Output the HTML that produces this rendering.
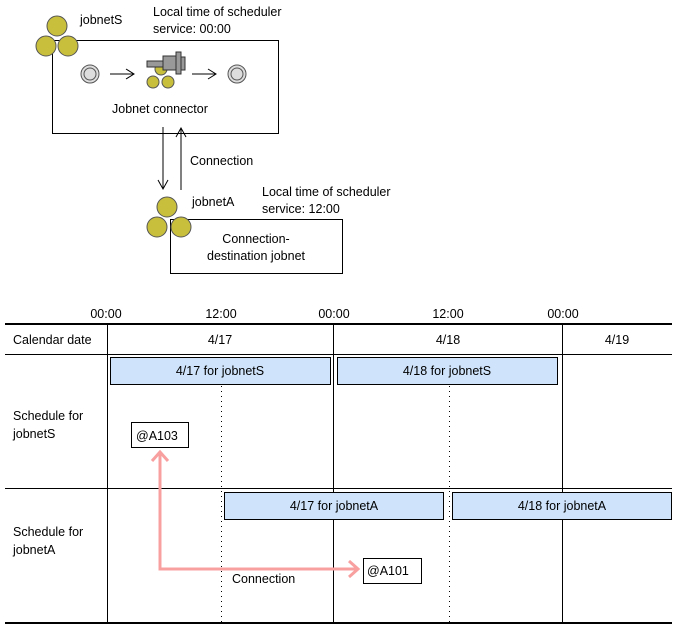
<!DOCTYPE html><html><head><style>body{margin:0;background:#fff}</style></head><body>
<svg width="676" height="635" xmlns="http://www.w3.org/2000/svg" font-family="Liberation Sans, sans-serif" font-size="12.5" fill="#000">
<g stroke="#000" fill="none">
<rect x="52.5" y="40.5" width="226" height="93"/>
<rect x="170.5" y="219.5" width="172" height="54"/>
<line x1="163" y1="127" x2="163" y2="189"/><polyline points="158,180 163,189 168,180"/>
<line x1="181" y1="190" x2="181" y2="128"/><polyline points="176,137 181,128 186,137"/>
<line x1="110" y1="74" x2="134" y2="74"/><polyline points="126,69 134,74 126,79"/>
<line x1="192" y1="74" x2="216" y2="74"/><polyline points="208,69 216,74 208,79"/>
</g>
<g fill="#c8c03c" stroke="#555"><circle cx="57" cy="26" r="10"/><circle cx="46" cy="46" r="10"/><circle cx="68" cy="46" r="10"/>
<circle cx="167" cy="207" r="10"/><circle cx="157" cy="227" r="10"/><circle cx="181" cy="227" r="10"/>
<circle cx="161" cy="69" r="6"/><circle cx="153" cy="82" r="6"/><circle cx="168" cy="82" r="6"/></g>
<g fill="#ddd" stroke="#555"><circle cx="90" cy="74" r="9"/><circle cx="90" cy="74" r="6"/><circle cx="237" cy="74" r="9"/><circle cx="237" cy="74" r="6"/></g>
<g fill="#999" stroke="#333"><rect x="147" y="61" width="30" height="6"/><rect x="163" y="56" width="15" height="14"/><rect x="176" y="52" width="5" height="22"/><rect x="181" y="57" width="4" height="13"/></g>
<text x="80" y="24">jobnetS</text><text x="153" y="16">Local time of scheduler</text><text x="153" y="33">service: 00:00</text>
<text x="112" y="113">Jobnet connector</text><text x="190" y="165">Connection</text>
<text x="192" y="206">jobnetA</text><text x="262" y="196">Local time of scheduler</text><text x="262" y="213">service: 12:00</text>
<text x="256" y="243" text-anchor="middle">Connection-</text><text x="256" y="260" text-anchor="middle">destination jobnet</text>
<g text-anchor="middle"><text x="106" y="318">00:00</text><text x="221" y="318">12:00</text><text x="334" y="318">00:00</text><text x="448" y="318">12:00</text><text x="563" y="318">00:00</text>
<text x="220" y="344">4/17</text><text x="448" y="344">4/18</text><text x="617" y="344">4/19</text></g>
<text x="13" y="344">Calendar date</text>
<text x="13" y="420">Schedule for</text><text x="13" y="438">jobnetS</text>
<text x="13" y="536">Schedule for</text><text x="13" y="554">jobnetA</text>
<g stroke="#000"><line x1="5" y1="324" x2="672" y2="324" stroke-width="2"/><line x1="5" y1="623" x2="672" y2="623" stroke-width="2"/>
<line x1="5" y1="354.5" x2="672" y2="354.5"/><line x1="5" y1="488.5" x2="672" y2="488.5"/>
<line x1="107.5" y1="325" x2="107.5" y2="622"/><line x1="333.5" y1="325" x2="333.5" y2="622"/><line x1="562.5" y1="325" x2="562.5" y2="622"/>
<line x1="221.5" y1="386" x2="221.5" y2="622" stroke-dasharray="1,4"/><line x1="449.5" y1="386" x2="449.5" y2="622" stroke-dasharray="1,4"/></g>
<g fill="#cfe4fb" stroke="#000"><rect x="110.5" y="357.5" width="220" height="27"/><rect x="337.5" y="357.5" width="220" height="27"/>
<rect x="224.5" y="492.5" width="219" height="27"/><rect x="452.5" y="492.5" width="219" height="27"/></g>
<g text-anchor="middle"><text x="220" y="375">4/17 for jobnetS</text><text x="447" y="375">4/18 for jobnetS</text>
<text x="334" y="510">4/17 for jobnetA</text><text x="562" y="510">4/18 for jobnetA</text></g>
<g fill="#fff" stroke="#000"><rect x="131.5" y="422.5" width="57" height="25"/><rect x="363.5" y="558.5" width="58" height="25"/></g>
<text x="136" y="440">@A103</text><text x="367" y="575">@A101</text>
<g stroke="#f8a0a0" stroke-width="3" fill="none"><polyline points="160,452 160,569 358,569"/><polyline points="152,461 160,452 168,461"/><polyline points="349,561 358,569 349,577"/></g>
<text x="232" y="583">Connection</text>
</svg></body></html>
